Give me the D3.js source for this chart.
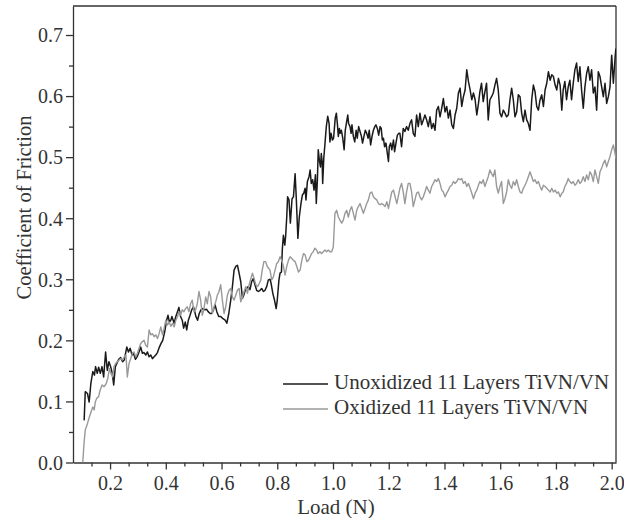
<!DOCTYPE html>
<html>
<head>
<meta charset="utf-8">
<script src="https://cdn.jsdelivr.net/npm/d3@7"></script>
<style>
  body { margin: 0; background: #fff; }
  svg { display: block; }
  .axis path, .axis line { stroke: #333; stroke-width: 1.3; }
  .axis text { font-family: "Liberation Serif", serif; font-size: 20px; fill: #333; }
  .label { font-family: "Liberation Serif", serif; fill: #333; }
</style>
</head>
<body>
<svg id="chart"></svg>
<script>
// Series: [load (N), coefficient of friction]
var unoxidized = [
  [.107,.069],[.111,.116],[.119,.113],[.125,.099],[.131,.129],[.138,.149],[.144,.143],[.148,.157],[.154,.146],[.159,.156],
  [.165,.146],[.171,.157],[.177,.140],[.184,.181],[.190,.151],[.196,.165],[.202,.157],[.208,.146],[.213,.127],[.219,.157],
  [.224,.162],[.231,.169],[.238,.172],[.245,.165],[.251,.168],[.260,.189],[.266,.181],[.272,.187],[.279,.176],[.284,.179],
  [.291,.169],[.298,.174],[.304,.181],[.310,.189],[.316,.179],[.322,.180],[.328,.176],[.334,.181],[.340,.173],[.346,.176],
  [.352,.170],[.358,.173],[.364,.176],[.370,.180],[.377,.189],[.383,.195],[.389,.200],[.396,.214],[.403,.233],[.408,.241],
  [.413,.230],[.418,.233],[.422,.239],[.430,.228],[.436,.239],[.442,.247],[.447,.254],[.453,.239],[.459,.233],[.464,.220],
  [.470,.230],[.475,.217],[.481,.233],[.487,.241],[.493,.250],[.499,.255],[.504,.247],[.508,.239],[.514,.233],[.520,.244],
  [.526,.250],[.532,.252],[.540,.250],[.546,.251],[.552,.247],[.559,.244],[.565,.244],[.571,.250],[.577,.258],[.583,.247],
  [.590,.239],[.597,.239],[.604,.236],[.613,.233],[.619,.228],[.626,.244],[.633,.266],[.639,.288],[.645,.315],[.651,.321],
  [.657,.323],[.663,.310],[.669,.296],[.675,.269],[.680,.274],[.685,.282],[.690,.285],[.696,.288],[.702,.283],[.708,.296],
  [.714,.301],[.720,.291],[.726,.282],[.732,.280],[.738,.282],[.744,.285],[.750,.280],[.756,.282],[.762,.288],[.768,.299],
  [.774,.300],[.778,.293],[.784,.277],[.790,.266],[.796,.252],[.800,.266],[.806,.299],[.810,.310],[.815,.312],[.818,.348],
  [.822,.372],[.827,.356],[.830,.370],[.834,.402],[.837,.435],[.842,.430],[.847,.392],[.853,.432],[.858,.435],[.864,.473],
  [.868,.435],[.874,.367],[.879,.402],[.885,.424],[.890,.438],[.895,.441],[.900,.449],[.903,.430],[.908,.460],[.914,.468],
  [.918,.479],[.922,.457],[.927,.463],[.932,.446],[.937,.471],[.940,.424],[.944,.463],[.947,.512],[.951,.495],[.955,.484],
  [.958,.506],[.961,.493],[.963,.457],[.967,.499],[.971,.521],[.976,.550],[.981,.567],[.986,.555],[.989,.525],[.993,.539],
  [.998,.528],[1.002,.531],[1.008,.564],[1.012,.572],[1.016,.553],[1.019,.534],[1.023,.547],[1.026,.539],[1.030,.544],[1.035,.531],
  [1.040,.512],[1.044,.544],[1.049,.558],[1.053,.569],[1.056,.555],[1.061,.550],[1.065,.539],[1.068,.553],[1.073,.534],[1.078,.525],
  [1.083,.544],[1.087,.531],[1.092,.550],[1.097,.542],[1.102,.534],[1.106,.523],[1.111,.534],[1.116,.544],[1.121,.539],[1.126,.531],
  [1.130,.544],[1.135,.520],[1.140,.534],[1.145,.544],[1.150,.550],[1.154,.553],[1.159,.547],[1.164,.536],[1.169,.550],[1.173,.547],
  [1.177,.528],[1.181,.531],[1.185,.517],[1.190,.523],[1.195,.506],[1.199,.493],[1.202,.517],[1.207,.523],[1.211,.512],[1.217,.528],
  [1.221,.509],[1.226,.523],[1.231,.536],[1.236,.539],[1.240,.539],[1.246,.517],[1.252,.547],[1.258,.542],[1.264,.550],[1.270,.544],
  [1.276,.555],[1.282,.561],[1.288,.539],[1.294,.534],[1.300,.569],[1.306,.550],[1.312,.572],[1.318,.553],[1.324,.561],[1.330,.569],
  [1.336,.561],[1.342,.550],[1.348,.566],[1.354,.547],[1.360,.555],[1.366,.544],[1.372,.577],[1.378,.583],[1.384,.566],[1.390,.580],
  [1.396,.596],[1.402,.574],[1.408,.583],[1.414,.564],[1.420,.577],[1.426,.553],[1.432,.547],[1.438,.569],[1.444,.580],[1.450,.605],
  [1.456,.613],[1.462,.583],[1.468,.599],[1.474,.610],[1.480,.643],[1.486,.624],[1.492,.610],[1.498,.594],[1.504,.605],[1.510,.594],
  [1.516,.569],[1.522,.588],[1.527,.607],[1.533,.621],[1.539,.591],[1.545,.607],[1.551,.621],[1.557,.561],[1.563,.594],[1.569,.599],
  [1.575,.605],[1.581,.618],[1.587,.629],[1.593,.610],[1.599,.572],[1.605,.566],[1.611,.577],[1.617,.572],[1.623,.566],[1.629,.569],
  [1.635,.594],[1.641,.613],[1.647,.594],[1.653,.566],[1.659,.574],[1.665,.602],[1.671,.599],[1.677,.572],[1.683,.558],[1.689,.577],
  [1.695,.561],[1.701,.555],[1.707,.544],[1.713,.594],[1.719,.618],[1.725,.607],[1.731,.583],[1.737,.577],[1.743,.594],[1.749,.602],
  [1.755,.583],[1.761,.610],[1.767,.621],[1.773,.640],[1.779,.626],[1.785,.635],[1.791,.632],[1.797,.618],[1.803,.610],[1.809,.629],
  [1.815,.618],[1.821,.577],[1.826,.610],[1.832,.624],[1.838,.594],[1.844,.615],[1.850,.626],[1.856,.594],[1.862,.621],[1.868,.643],
  [1.874,.654],[1.880,.624],[1.886,.648],[1.892,.610],[1.898,.580],[1.904,.615],[1.910,.637],[1.916,.648],[1.922,.626],[1.928,.643],
  [1.934,.605],[1.940,.615],[1.946,.577],[1.952,.640],[1.958,.632],[1.964,.615],[1.970,.599],[1.976,.621],[1.982,.588],[1.988,.599],
  [1.994,.615],[2.000,.667],[2.006,.621],[2.012,.662],[2.015,.678]
];

var oxidized = [
  [.102,.000],[.107,.034],[.111,.053],[.119,.064],[.126,.075],[.132,.083],[.138,.091],[.143,.086],[.147,.099],[.152,.105],
  [.159,.108],[.164,.118],[.171,.127],[.178,.124],[.186,.129],[.192,.138],[.198,.154],[.203,.146],[.209,.140],[.214,.157],
  [.220,.162],[.226,.165],[.233,.168],[.239,.170],[.245,.168],[.251,.173],[.257,.176],[.262,.140],[.268,.162],[.274,.170],
  [.280,.179],[.286,.181],[.292,.173],[.298,.179],[.304,.187],[.310,.195],[.316,.198],[.322,.200],[.328,.192],[.334,.189],
  [.340,.217],[.346,.209],[.352,.211],[.358,.206],[.364,.209],[.370,.203],[.376,.211],[.382,.222],[.388,.209],[.394,.220],
  [.400,.233],[.406,.225],[.412,.230],[.418,.223],[.424,.228],[.430,.222],[.436,.233],[.442,.239],[.447,.247],[.453,.241],
  [.459,.250],[.465,.247],[.471,.252],[.477,.255],[.483,.247],[.489,.260],[.495,.266],[.501,.247],[.507,.250],[.513,.260],
  [.519,.280],[.525,.266],[.531,.241],[.537,.252],[.543,.271],[.549,.260],[.555,.280],[.561,.271],[.567,.244],[.573,.255],
  [.579,.263],[.585,.274],[.591,.280],[.597,.291],[.603,.266],[.609,.244],[.615,.255],[.621,.274],[.627,.282],[.633,.285],
  [.639,.271],[.645,.266],[.651,.274],[.657,.282],[.663,.285],[.669,.263],[.675,.271],[.681,.280],[.687,.288],[.693,.277],
  [.699,.291],[.705,.301],[.711,.310],[.717,.301],[.723,.291],[.729,.288],[.735,.293],[.741,.299],[.746,.315],[.752,.329],
  [.758,.329],[.764,.321],[.774,.315],[.780,.299],[.786,.304],[.792,.315],[.798,.326],[.804,.329],[.810,.337],[.816,.331],
  [.822,.321],[.828,.307],[.834,.321],[.840,.331],[.846,.337],[.852,.334],[.858,.331],[.864,.329],[.870,.321],[.876,.312],
  [.882,.315],[.888,.331],[.894,.342],[.900,.340],[.906,.329],[.912,.331],[.918,.337],[.923,.342],[.929,.345],[.935,.351],
  [.941,.348],[.947,.342],[.953,.345],[.959,.342],[.965,.345],[.971,.348],[.977,.345],[.983,.348],[.989,.345],[.995,.345],
  [1.001,.353],[1.007,.408],[1.013,.413],[1.019,.402],[1.025,.397],[1.031,.392],[1.037,.397],[1.043,.408],[1.049,.413],[1.055,.402],
  [1.061,.413],[1.067,.419],[1.073,.408],[1.079,.397],[1.085,.413],[1.091,.419],[1.097,.424],[1.103,.416],[1.109,.408],[1.115,.416],
  [1.121,.424],[1.127,.430],[1.133,.441],[1.139,.443],[1.145,.435],[1.151,.432],[1.157,.430],[1.163,.424],[1.169,.422],[1.175,.424],
  [1.181,.422],[1.187,.419],[1.193,.427],[1.199,.416],[1.205,.430],[1.211,.443],[1.217,.446],[1.223,.435],[1.229,.424],[1.234,.435],
  [1.240,.449],[1.246,.457],[1.252,.443],[1.258,.424],[1.264,.443],[1.270,.457],[1.276,.457],[1.282,.443],[1.288,.419],[1.294,.430],
  [1.300,.441],[1.306,.443],[1.312,.435],[1.318,.430],[1.324,.435],[1.330,.443],[1.336,.452],[1.342,.446],[1.348,.441],[1.354,.452],
  [1.360,.457],[1.366,.463],[1.372,.460],[1.378,.465],[1.384,.457],[1.390,.446],[1.396,.443],[1.402,.435],[1.408,.441],[1.414,.446],
  [1.420,.452],[1.426,.454],[1.432,.460],[1.438,.457],[1.444,.460],[1.450,.465],[1.456,.463],[1.462,.465],[1.468,.457],[1.474,.460],
  [1.480,.452],[1.486,.457],[1.492,.449],[1.498,.441],[1.504,.432],[1.510,.441],[1.516,.446],[1.522,.454],[1.527,.460],[1.533,.457],
  [1.539,.463],[1.545,.452],[1.551,.460],[1.557,.468],[1.563,.479],[1.569,.473],[1.575,.468],[1.581,.479],[1.587,.452],[1.593,.441],
  [1.599,.452],[1.605,.460],[1.611,.424],[1.617,.432],[1.623,.443],[1.629,.463],[1.635,.454],[1.641,.449],[1.647,.460],[1.653,.454],
  [1.659,.463],[1.665,.452],[1.671,.443],[1.677,.441],[1.683,.449],[1.689,.454],[1.695,.460],[1.701,.468],[1.707,.476],[1.713,.468],
  [1.719,.460],[1.725,.463],[1.731,.457],[1.737,.460],[1.743,.452],[1.749,.446],[1.755,.454],[1.761,.452],[1.767,.449],[1.773,.446],
  [1.779,.443],[1.785,.449],[1.791,.443],[1.797,.446],[1.803,.441],[1.809,.443],[1.815,.435],[1.821,.441],[1.826,.443],[1.832,.452],
  [1.838,.457],[1.844,.465],[1.850,.460],[1.856,.457],[1.862,.460],[1.868,.454],[1.874,.457],[1.880,.463],[1.886,.457],[1.892,.460],
  [1.898,.468],[1.904,.460],[1.910,.471],[1.916,.463],[1.922,.476],[1.928,.471],[1.934,.460],[1.940,.479],[1.946,.468],[1.952,.457],
  [1.958,.476],[1.964,.482],[1.970,.490],[1.976,.495],[1.982,.484],[1.988,.493],[1.994,.501],[2.000,.512],[2.006,.520],[2.012,.506],
  [2.015,.498]
];

var seriesNames = ["Unoxidized 11 Layers TiVN/VN", "Oxidized 11 Layers TiVN/VN"];
var seriesColors = ["#1a1a1a", "#999999"];

var xTicks = [0.2, 0.4, 0.6, 0.8, 1.0, 1.2, 1.4, 1.6, 1.8, 2.0];
var yTicks = [0.0, 0.1, 0.2, 0.3, 0.4, 0.5, 0.6, 0.7];

// SVG size params
var W = 624, H = 518;
var margin = {top: 6, right: 8, bottom: 55.5, left: 73};
var width = W - margin.left - margin.right;
var height = H - margin.top - margin.bottom;

var svg = d3.select("#chart")
    .attr("width", W)
    .attr("height", H)
  .append("g")
    .attr("transform", "translate(" + margin.left + "," + margin.top + ")");

var x = d3.scaleLinear().domain([0.067, 2.0155]).range([0, width]);
var y = d3.scaleLinear().domain([0, 0.7475]).range([height, 0]);

svg.append("defs").append("clipPath")
    .attr("id", "clipper")
  .append("rect")
    .attr("width", width)
    .attr("height", height);

// Minor ticks (three divisions per major on x, two on y)
var xMinor = d3.range(0.2 / 3 * 2, 2.01, 0.2 / 3).filter(function(v) {
  return Math.abs(Math.round(v * 5) - v * 5) > 0.05;
});
var yMinor = d3.range(0.05, 0.75, 0.1);

svg.append("g")
    .attr("class", "axis")
    .attr("transform", "translate(0," + height + ")")
    .call(d3.axisBottom(x).tickValues(xMinor).tickSize(4).tickFormat(""))
    .call(g => g.select(".domain").remove());

svg.append("g")
    .attr("class", "axis")
    .call(d3.axisLeft(y).tickValues(yMinor).tickSize(4).tickFormat(""))
    .call(g => g.select(".domain").remove());

// Major axes
svg.append("g")
    .attr("class", "axis")
    .attr("transform", "translate(0," + height + ")")
    .call(d3.axisBottom(x).tickValues(xTicks).tickSize(7).tickSizeOuter(0).tickFormat(d3.format(".1f")))
    .call(g => g.selectAll("text").attr("y", 27).attr("dy", null));

svg.append("g")
    .attr("class", "axis")
    .call(d3.axisLeft(y).tickValues(yTicks).tickSize(7).tickSizeOuter(0).tickFormat(d3.format(".1f")))
    .call(g => g.selectAll("text").attr("x", -10).attr("dy", "0.34em"));

// Frame top and right
svg.append("line")
    .attr("x1", 0).attr("x2", width).attr("y1", 0).attr("y2", 0)
    .attr("stroke", "#333").attr("stroke-width", 1.3);
svg.append("line")
    .attr("x1", width).attr("x2", width).attr("y1", 0).attr("y2", height)
    .attr("stroke", "#333").attr("stroke-width", 1.3);

// Data lines
var line = d3.line()
    .x(d => x(d[0]))
    .y(d => y(d[1]));

var plot = svg.append("g").attr("clip-path", "url(#clipper)");

plot.append("path")
    .datum(unoxidized)
    .attr("fill", "none")
    .attr("stroke", seriesColors[0])
    .attr("stroke-width", 1.5)
    .attr("stroke-linejoin", "round")
    .attr("d", line);

plot.append("path")
    .datum(oxidized)
    .attr("fill", "none")
    .attr("stroke", seriesColors[1])
    .attr("stroke-width", 1.4)
    .attr("stroke-linejoin", "round")
    .attr("d", line);

// Legend
var legend = svg.append("g")
    .attr("transform", "translate(" + (283 - margin.left) + "," + (384 - margin.top) + ")");

seriesNames.forEach(function(name, i) {
  var row = legend.append("g").attr("transform", "translate(0," + (i * 25) + ")");
  row.append("line")
      .attr("x1", 0).attr("x2", 45)
      .attr("stroke", seriesColors[i])
      .attr("stroke-width", 1.5);
  row.append("text")
      .attr("class", "label")
      .attr("x", 51)
      .attr("y", 5)
      .attr("font-size", "21px")
      .text(name);
});

// Axis titles
svg.append("text")
    .attr("class", "label")
    .attr("x", 336 - margin.left)
    .attr("y", 514 - margin.top)
    .attr("text-anchor", "middle")
    .attr("font-size", "21px")
    .text("Load (N)");

svg.append("text")
    .attr("class", "label")
    .attr("transform", "translate(" + (31 - margin.left) + "," + (207.5 - margin.top) + ") rotate(-90)")
    .attr("text-anchor", "middle")
    .attr("font-size", "20.5px")
    .text("Coefficient of Friction");
</script>
</body>
</html>
